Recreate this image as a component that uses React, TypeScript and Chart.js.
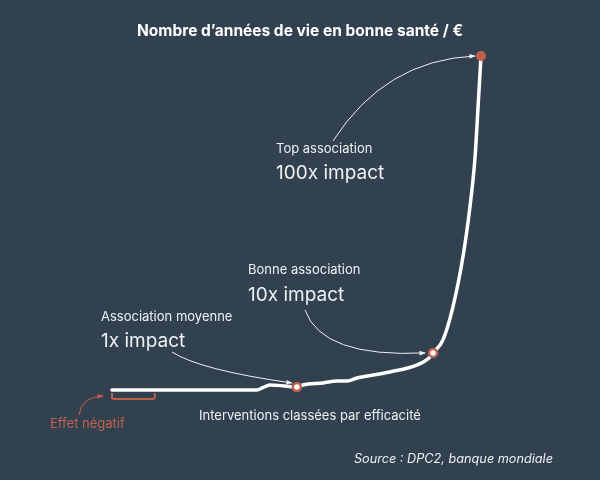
import { useEffect, useRef } from 'react'
import { Chart, registerables } from 'chart.js'

Chart.register(...registerables)

// interventions ranked by cost-effectiveness (percentile) -> healthy life years per €
const RANKS = [0, 39.3, 40.7, 42.8, 46.9, 50.1, 51.8, 57.2, 61, 63.7, 66.4, 75.3, 82.7, 86.2, 87, 89.7, 92.4, 95.1, 97, 98.4, 99.2, 100]
const HEALTH_YEARS = [0, 0, 0.6, 1.5, 1.2, 0.9, 1.5, 2.1, 2.7, 2.7, 3.6, 5.4, 7.5, 9.9, 11.1, 15, 24.9, 39.8, 54.8, 69.8, 84.7, 100]
// 1x, 10x, 100x impact points (indices into the curve)
const MARKER_IDX = [5, 14, 21]
const NEGATIVE_RANGE = [0, 11.6]

const BG = '#324150'
const ORANGE = '#c0604b'
const TEXT = '#eef0f2'

function drawArrow(ctx: CanvasRenderingContext2D, x0: number, y0: number, cx: number, cy: number, x1: number, y1: number, color: string) {
  ctx.save()
  ctx.strokeStyle = color
  ctx.fillStyle = color
  ctx.lineWidth = 1
  ctx.beginPath()
  ctx.moveTo(x0, y0)
  ctx.quadraticCurveTo(cx, cy, x1, y1)
  ctx.stroke()
  const a = Math.atan2(y1 - cy, x1 - cx)
  const s = 6
  ctx.beginPath()
  ctx.moveTo(x1 + 1, y1)
  ctx.lineTo(x1 - s * Math.cos(a - 0.4), y1 - s * Math.sin(a - 0.4))
  ctx.lineTo(x1 - s * Math.cos(a + 0.4), y1 - s * Math.sin(a + 0.4))
  ctx.closePath()
  ctx.fill()
  ctx.restore()
}

const annotations = {
  id: 'annotations',
  afterDatasetsDraw(chart: any) {
    const { ctx, scales } = chart
    const x = scales.x, y = scales.y
    const m = MARKER_IDX.map((i) => ({ px: x.getPixelForValue(RANKS[i]), py: y.getPixelForValue(HEALTH_YEARS[i]) }))

    drawArrow(ctx, 172, 352, 200, 370, m[0].px - 5, m[0].py - 4, TEXT)
    drawArrow(ctx, 305, 310, 322, 358, m[1].px - 8, m[1].py, TEXT)
    drawArrow(ctx, 333, 141, 385, 60, m[2].px - 6, m[2].py, TEXT)

    // negative effect bracket
    const bx0 = x.getPixelForValue(NEGATIVE_RANGE[0])
    const bx1 = x.getPixelForValue(NEGATIVE_RANGE[1])
    const by = y.getPixelForValue(0)
    ctx.save()
    ctx.strokeStyle = ORANGE
    ctx.lineWidth = 2
    ctx.lineJoin = 'round'
    ctx.beginPath()
    ctx.moveTo(bx0, by + 3)
    ctx.lineTo(bx0, by + 7)
    ctx.arcTo(bx0, by + 9, bx0 + 2, by + 9, 2)
    ctx.lineTo(bx1 - 2, by + 9)
    ctx.arcTo(bx1, by + 9, bx1, by + 7, 2)
    ctx.lineTo(bx1, by + 3)
    ctx.stroke()
    ctx.restore()
    drawArrow(ctx, 79, 415, 81, 397, bx0 - 9, by + 6, ORANGE)
  },
}

const label = (left: number, top: number, size: number, extra: any = {}) => ({
  position: 'absolute' as const,
  left,
  top,
  fontSize: size,
  lineHeight: 1,
  whiteSpace: 'nowrap' as const,
  color: TEXT,
  fontFamily: 'Inter, sans-serif',
  ...extra,
})

export default function App() {
  const canvasRef = useRef<HTMLCanvasElement>(null)

  useEffect(() => {
    if (!canvasRef.current) return
    const chart = new Chart(canvasRef.current, {
      type: 'scatter',
      data: {
        datasets: [
          {
            data: RANKS.map((r, i) => ({ x: r, y: HEALTH_YEARS[i] })),
            showLine: true,
            borderColor: '#ffffff',
            borderWidth: 3.5,
            pointRadius: 0,
            cubicInterpolationMode: 'monotone',
            borderCapStyle: 'round',
            order: 2,
          },
          {
            data: MARKER_IDX.slice(0, 2).map((i) => ({ x: RANKS[i], y: HEALTH_YEARS[i] })),
            pointRadius: 4,
            pointBackgroundColor: '#ffffff',
            pointBorderColor: ORANGE,
            pointBorderWidth: 2.5,
            order: 1,
          },
          {
            data: MARKER_IDX.slice(2).map((i) => ({ x: RANKS[i], y: HEALTH_YEARS[i] })),
            pointRadius: 5,
            pointBackgroundColor: ORANGE,
            pointBorderColor: ORANGE,
            pointBorderWidth: 0,
            order: 1,
          },
        ],
      },
      options: {
        responsive: true,
        maintainAspectRatio: false,
        animation: false,
        layout: { padding: 0, autoPadding: false },
        plugins: { legend: { display: false }, tooltip: { enabled: false } },
        scales: {
          x: { type: 'linear', display: false, min: -30.35, max: 132.25 },
          y: { type: 'linear', display: false, min: -26.95, max: 116.76 },
        },
      },
      plugins: [annotations],
    })
    return () => chart.destroy()
  }, [])

  return (
    <div style={{ position: 'fixed', left: 0, top: 0, width: 600, height: 480, background: BG, overflow: 'hidden' }}>
      <canvas ref={canvasRef} />
      <div style={label(0, 23, 15.5, { width: 600, textAlign: 'center', fontWeight: 700, color: '#ffffff' })}>
        Nombre d’années de vie en bonne santé / €
      </div>
      <div style={label(276, 142, 13)}>Top association</div>
      <div style={label(276, 163, 19)}>100x impact</div>
      <div style={label(248, 263, 13)}>Bonne association</div>
      <div style={label(248, 285, 19)}>10x impact</div>
      <div style={label(101, 310, 13)}>Association moyenne</div>
      <div style={label(101, 331, 19)}>1x impact</div>
      <div style={label(199, 409, 13)}>Interventions classées par efficacité</div>
      <div style={label(50, 417, 13, { color: ORANGE })}>Effet négatif</div>
      <div style={label(0, 453, 12.7, { width: 553, textAlign: 'right', fontStyle: 'italic' })}>
        Source : DPC2, banque mondiale
      </div>
    </div>
  )
}
